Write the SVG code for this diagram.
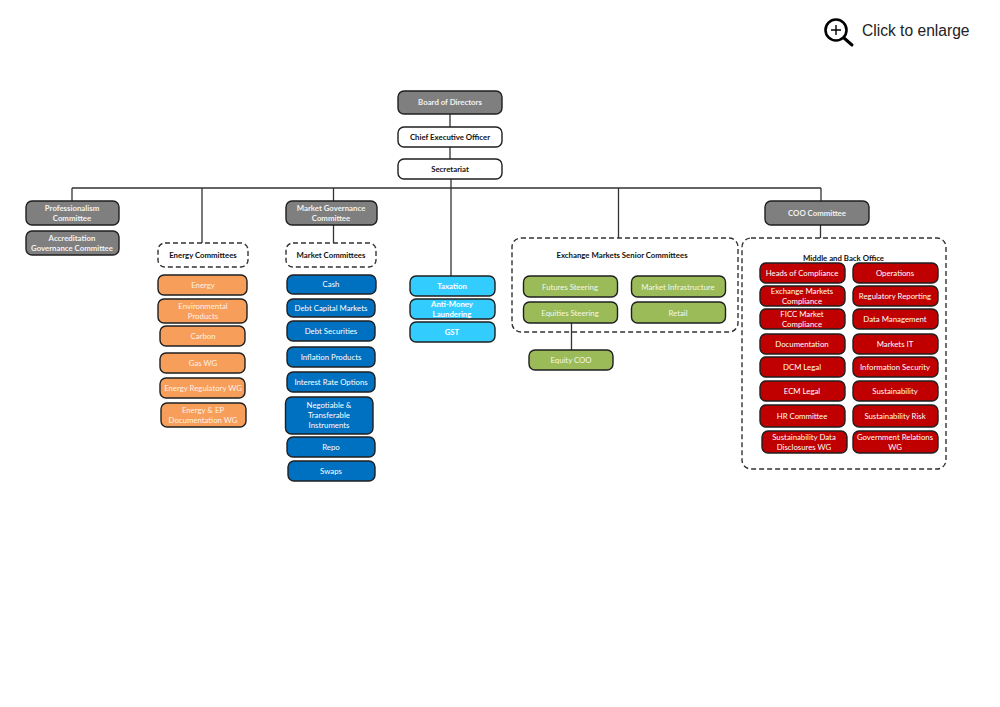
<svg xmlns="http://www.w3.org/2000/svg" width="1000" height="707" viewBox="0 0 1000 707">
<style>
rect{stroke:#1f1f1f;stroke-width:1.4}
text{font-family:Lato,"Liberation Sans",sans-serif;font-size:7.8px;text-anchor:middle;fill:#fff}
.g rect{fill:#7f7f7f}
.g text{font-weight:700;fill:#f2f2f2}
.w rect{fill:#fff}
.w text,.d text,.t{font-weight:700;fill:#111}
.d rect,rect.d{fill:none;stroke-dasharray:5 3;stroke:#333}
.d rect{fill:#fff}
.o rect{fill:#f79f5a}
.o text{fill:#fdf0e4}
.b rect{fill:#0070c0}
.c rect{fill:#33ccff}
.c text{font-weight:700}
.n rect{fill:#9bbb59}
.n text{fill:#f4f7ea}
.r rect{fill:#c00000}
#connectors path{fill:none;stroke:#333;stroke-width:1.3}
</style>
<g id="enlarge">
<circle cx="836" cy="30" r="10.500" fill="none" stroke="#000" stroke-width="2.600"/>
<path d="M844 38L852 45" fill="none" stroke="#000" stroke-width="3" stroke-linecap="round"/>
<path d="M831 30H841M836 25V35" fill="none" stroke="#000" stroke-width="1.400"/>
<text x="862" y="36" style="font-family:'Liberation Sans',sans-serif;font-size:15.600px;fill:#222;text-anchor:start">Click to enlarge</text>
</g>
<g id="connectors">
<path d="M450 114V127M450 147V159M451 179V276M72 188H821M72 188V201M202 188V243M333.500 188V201M333.500 225V243M618.500 188V238M821 188V201M820.500 225V238M571.500 323V350"/>
</g>
<g id="board" class="g"><rect x="398" y="91" width="104" height="23" rx="6"/><text x="450" y="105">Board of Directors</text></g>
<g id="ceo" class="w"><rect x="398" y="127" width="104" height="20" rx="6"/><text x="450" y="139.500">Chief Executive Officer</text></g>
<g id="secretariat" class="w"><rect x="398" y="159" width="104" height="20" rx="6"/><text x="450" y="171.500">Secretariat</text></g>
<g id="professionalism" class="g"><rect x="26" y="201" width="93" height="24" rx="6"/><text x="72" y="211">Professionalism</text><text x="72" y="221">Committee</text></g>
<g id="accreditation" class="g"><rect x="26" y="231" width="93" height="24" rx="6"/><text x="72" y="241">Accreditation</text><text x="72" y="251">Governance Committee</text></g>
<g id="market-governance" class="g"><rect x="286" y="201" width="91" height="24" rx="6"/><text x="331" y="211">Market Governance</text><text x="331" y="221">Committee</text></g>
<g id="coo" class="g"><rect x="765" y="201" width="104" height="24" rx="6"/><text x="817" y="215.500">COO Committee</text></g>
<g id="energy-committees" class="d"><rect x="158" y="243" width="90" height="24" rx="7"/><text x="203" y="257.500">Energy Committees</text></g>
<g id="market-committees" class="d"><rect x="286" y="243" width="90" height="24" rx="7"/><text x="331" y="257.500">Market Committees</text></g>
<g id="energy" class="o"><rect x="158" y="275" width="89" height="20" rx="6"/><text x="203" y="288">Energy</text></g>
<g id="environmental" class="o"><rect x="158" y="299" width="89" height="24" rx="6"/><text x="203" y="309">Environmental</text><text x="203" y="319">Products</text></g>
<g id="carbon" class="o"><rect x="160" y="326" width="85" height="20" rx="6"/><text x="203" y="339">Carbon</text></g>
<g id="gas" class="o"><rect x="160" y="353" width="85" height="20" rx="6"/><text x="203" y="366">Gas WG</text></g>
<g id="energy-regulatory" class="o"><rect x="160" y="378" width="85" height="20" rx="6"/><text x="203" y="391">Energy Regulatory WG</text></g>
<g id="energy-ep" class="o"><rect x="161" y="403" width="85" height="24" rx="6"/><text x="203" y="413">Energy &amp; EP</text><text x="203" y="423">Documentation WG</text></g>
<g id="cash" class="b"><rect x="287" y="275" width="89" height="19" rx="6"/><text x="331" y="287">Cash</text></g>
<g id="debt-capital" class="b"><rect x="287" y="299" width="88" height="18" rx="6"/><text x="331" y="310.500">Debt Capital Markets</text></g>
<g id="debt-securities" class="b"><rect x="287" y="321" width="88" height="20" rx="6"/><text x="331" y="334">Debt Securities</text></g>
<g id="inflation" class="b"><rect x="287" y="347" width="88" height="20" rx="6"/><text x="331" y="360">Inflation Products</text></g>
<g id="interest-rate" class="b"><rect x="287" y="372" width="88" height="20" rx="6"/><text x="331" y="385">Interest Rate Options</text></g>
<g id="negotiable" class="b"><rect x="285.500" y="397" width="87.500" height="37" rx="6"/><text x="329" y="408">Negotiable &amp;</text><text x="329" y="418">Transferable</text><text x="329" y="428">Instruments</text></g>
<g id="repo" class="b"><rect x="287" y="437" width="88" height="20" rx="6"/><text x="331" y="450">Repo</text></g>
<g id="swaps" class="b"><rect x="288" y="461" width="87" height="20" rx="6"/><text x="331" y="474">Swaps</text></g>
<g id="taxation" class="c"><rect x="410" y="276" width="85" height="20" rx="6"/><text x="452" y="288.500">Taxation</text></g>
<g id="aml" class="c"><rect x="410" y="299" width="85" height="20" rx="6"/><text x="452" y="307">Anti-Money</text><text x="452" y="317">Laundering</text></g>
<g id="gst" class="c"><rect x="410" y="322" width="85" height="20" rx="6"/><text x="452" y="335">GST</text></g>
<g id="exchange-markets"><rect class="d" x="512" y="238" width="226" height="94" rx="9"/><text class="t" x="622" y="258">Exchange Markets Senior Committees</text></g>
<g id="futures" class="n"><rect x="523.500" y="276" width="94" height="21" rx="6"/><text x="570" y="289.500">Futures Steering</text></g>
<g id="equities" class="n"><rect x="523.500" y="302" width="94" height="21" rx="6"/><text x="570" y="315.500">Equities Steering</text></g>
<g id="market-infrastructure" class="n"><rect x="631.500" y="276" width="94" height="21" rx="6"/><text x="678" y="289.500">Market Infrastructure</text></g>
<g id="retail" class="n"><rect x="631.500" y="302" width="94" height="21" rx="6"/><text x="678" y="315.500">Retail</text></g>
<g id="equity-coo" class="n"><rect x="529" y="350" width="84" height="20" rx="6"/><text x="571" y="363">Equity COO</text></g>
<g id="middle-back"><rect class="d" x="742" y="238" width="204" height="231" rx="9"/><text class="t" x="843.500" y="261">Middle and Back Office</text></g>
<g id="heads-compliance" class="r"><rect x="760" y="263" width="85" height="20" rx="6"/><text x="802" y="276">Heads of Compliance</text></g>
<g id="exchange-compliance" class="r"><rect x="760" y="286" width="85" height="20" rx="6"/><text x="802" y="294">Exchange Markets</text><text x="802" y="304">Compliance</text></g>
<g id="ficc" class="r"><rect x="760" y="309" width="85" height="20" rx="6"/><text x="802" y="317">FICC Market</text><text x="802" y="327">Compliance</text></g>
<g id="documentation" class="r"><rect x="760" y="334" width="85" height="20" rx="6"/><text x="802" y="347">Documentation</text></g>
<g id="dcm" class="r"><rect x="760" y="357" width="85" height="20" rx="6"/><text x="802" y="370">DCM Legal</text></g>
<g id="ecm" class="r"><rect x="760" y="381" width="85" height="20" rx="6"/><text x="802" y="394">ECM Legal</text></g>
<g id="hr" class="r"><rect x="760" y="405" width="85" height="22" rx="6"/><text x="802" y="419">HR Committee</text></g>
<g id="sustainability-data" class="r"><rect x="762" y="431" width="85" height="22" rx="6"/><text x="804" y="440">Sustainability Data</text><text x="804" y="450">Disclosures WG</text></g>
<g id="operations" class="r"><rect x="853" y="263" width="85" height="20" rx="6"/><text x="895" y="276">Operations</text></g>
<g id="regulatory-reporting" class="r"><rect x="853" y="286" width="85" height="20" rx="6"/><text x="895" y="299">Regulatory Reporting</text></g>
<g id="data-management" class="r"><rect x="853" y="309" width="85" height="20" rx="6"/><text x="895" y="322">Data Management</text></g>
<g id="markets-it" class="r"><rect x="853" y="334" width="85" height="20" rx="6"/><text x="895" y="347">Markets IT</text></g>
<g id="information-security" class="r"><rect x="853" y="357" width="85" height="20" rx="6"/><text x="895" y="370">Information Security</text></g>
<g id="sustainability" class="r"><rect x="853" y="381" width="85" height="20" rx="6"/><text x="895" y="394">Sustainability</text></g>
<g id="sustainability-risk" class="r"><rect x="853" y="405" width="85" height="22" rx="6"/><text x="895" y="419">Sustainability Risk</text></g>
<g id="government-relations" class="r"><rect x="853" y="431" width="85" height="22" rx="6"/><text x="895" y="440">Government Relations</text><text x="895" y="450">WG</text></g>
</svg>
